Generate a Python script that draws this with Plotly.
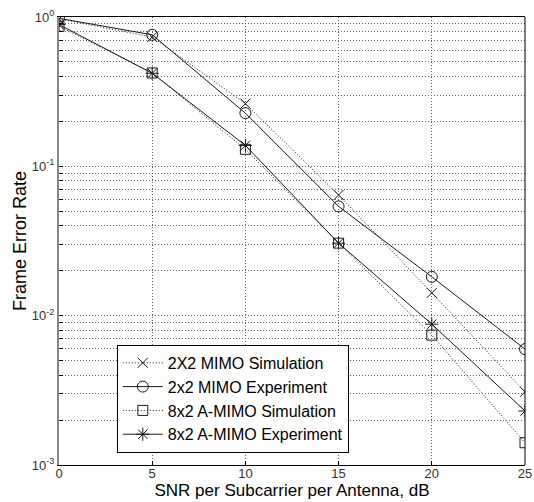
import plotly.graph_objects as go

snr = [0, 5, 10, 15, 20, 25]
sim_2x2 = [0.97, 0.735, 0.263, 0.0643, 0.0142, 0.00309]
exp_2x2 = [0.98, 0.76, 0.227, 0.0539, 0.0182, 0.00597]
sim_8x2 = [0.867, 0.422, 0.130, 0.0306, 0.00741, 0.00141]
exp_8x2 = [0.89, 0.42, 0.138, 0.0306, 0.00877, 0.0023]

names = ["2X2 MIMO Simulation", "2x2 MIMO Experiment",
         "8x2 A-MIMO Simulation", "8x2 A-MIMO Experiment"]

x_ticks = [0, 5, 10, 15, 20, 25]
decades = [-3, -2, -1, 0]

y_tickvals = []
y_ticktext = []
for d in decades:
    for m in range(1, 10):
        if d == 0 and m > 1:
            break
        y_tickvals.append(m * 10 ** d)
        y_ticktext.append(f"10<sup>{d}</sup>" if m == 1 else "")

FONT = "Arial, Liberation Sans, sans-serif"
INK = "#1a1a1a"
DOT = "1px,2px"

fig = go.Figure()
fig.add_trace(go.Scatter(x=snr, y=sim_2x2, name=names[0], mode="lines+markers",
                         line=dict(color=INK, width=1, dash=DOT),
                         marker=dict(symbol="x-thin-open", size=10, line=dict(color=INK, width=1))))
fig.add_trace(go.Scatter(x=snr, y=exp_2x2, name=names[1], mode="lines+markers",
                         line=dict(color=INK, width=1),
                         marker=dict(symbol="circle-open", size=11, color=INK, line=dict(color=INK, width=1))))
fig.add_trace(go.Scatter(x=snr, y=sim_8x2, name=names[2], mode="lines+markers",
                         line=dict(color=INK, width=1, dash=DOT),
                         marker=dict(symbol="square-open", size=10, color=INK, line=dict(color=INK, width=1))))
fig.add_trace(go.Scatter(x=snr, y=exp_8x2, name=names[3], mode="lines+markers",
                         line=dict(color=INK, width=1),
                         marker=dict(symbol="asterisk-open", size=11, color=INK, line=dict(color=INK, width=1))))

fig.update_layout(
    width=534, height=502,
    margin=dict(l=59, r=9, t=17, b=37, autoexpand=False),
    paper_bgcolor="white", plot_bgcolor="white",
    font=dict(family=FONT, color="black", size=13),
    showlegend=True,
    legend=dict(x=0.124, y=0.027, xanchor="left", yanchor="bottom",
                bgcolor="white", bordercolor="black", borderwidth=1,
                font=dict(family=FONT, size=16, color="black"),
                tracegroupgap=0, itemwidth=40),
    xaxis=dict(range=[0, 25], tickvals=x_ticks, ticktext=[str(v) for v in x_ticks],
               showgrid=True, gridcolor="#666", griddash=DOT, gridwidth=1,
               showline=True, linecolor="black", linewidth=1, mirror=True,
               ticks="inside", ticklen=4, tickcolor="black",
               tickfont=dict(size=13, color="#333"),
               ticklabelstandoff=-4,
               zeroline=False,
               title=dict(text="SNR per Subcarrier per Antenna, dB",
                          font=dict(size=17, color="black"), standoff=1)),
    yaxis=dict(type="log", range=[-3, 0], tickvals=y_tickvals, ticktext=y_ticktext,
               showgrid=True, gridcolor="#666", griddash=DOT, gridwidth=1,
               showline=True, linecolor="#888", linewidth=2, mirror=False,
               ticks="inside", ticklen=4, tickcolor="black",
               tickfont=dict(size=13, color="#333"),
               zeroline=False,
               title=dict(text="Frame Error Rate", font=dict(size=18, color="black"), standoff=1)),
)
fig.add_shape(type="line", xref="paper", yref="paper", x0=1, x1=1, y0=0, y1=1,
              line=dict(color="black", width=1))

# remove the default page margin so the 534x502 figure fills the window exactly
fig.write_html("out.html",
               config={"displayModeBar": False},
               post_script="document.body.style.margin='0';"
                           "document.documentElement.style.overflow='hidden';")
